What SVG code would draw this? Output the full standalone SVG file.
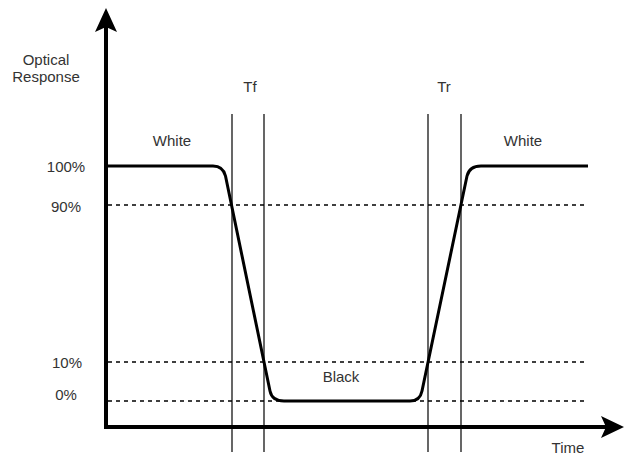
<svg xmlns="http://www.w3.org/2000/svg" width="624" height="456" viewBox="0 0 624 456">
<style>
text{font-family:"Liberation Sans",Arial,sans-serif;font-size:15px;fill:#333;text-anchor:middle}
.dash{stroke:#000;stroke-width:1.4;stroke-dasharray:4 4;fill:none}
.vl{stroke:#000;stroke-width:1.2;fill:none}
.axis{stroke:#000;stroke-width:4;fill:none}
.curve{stroke:#000;stroke-width:3;fill:none;stroke-linejoin:round}
</style>
<rect width="624" height="456" fill="#fff"/>
<g id="connectors">
<line class="dash" x1="108" y1="205" x2="588" y2="205"/>
<line class="dash" x1="108" y1="362" x2="588" y2="362"/>
<line class="dash" x1="108" y1="401" x2="588" y2="401"/>
<line class="vl" x1="232" y1="114" x2="232" y2="452"/>
<line class="vl" x1="264" y1="114" x2="264" y2="452"/>
<line class="vl" x1="428" y1="114" x2="428" y2="452"/>
<line class="vl" x1="461" y1="114" x2="461" y2="452"/>
<path class="axis" d="M106,427 V26"/>
<path class="axis" d="M104,427 H610"/>
<path d="M106,8 L117,32 L106,27 L95,32 Z" fill="#000"/>
<path d="M624,427 L601,416 L606,427 L601,438 Z" fill="#000"/>
<path class="curve" d="M106,166 H213 Q223,166 225.5,176 L270,391 Q272,401 284,401 H410 Q420,401 422,391 L467,176 Q469.5,166 481,166 H588"/>
</g>
<g id="labels">
<text x="46" y="65">Optical</text>
<text x="46" y="82">Response</text>
<text x="250" y="92">Tf</text>
<text x="444" y="92">Tr</text>
<text x="172" y="146">White</text>
<text x="523" y="146">White</text>
<text x="66" y="172">100%</text>
<text x="66" y="212">90%</text>
<text x="67" y="368">10%</text>
<text x="66" y="400">0%</text>
<text x="341" y="382">Black</text>
<text x="568" y="453">Time</text>
</g>
</svg>
